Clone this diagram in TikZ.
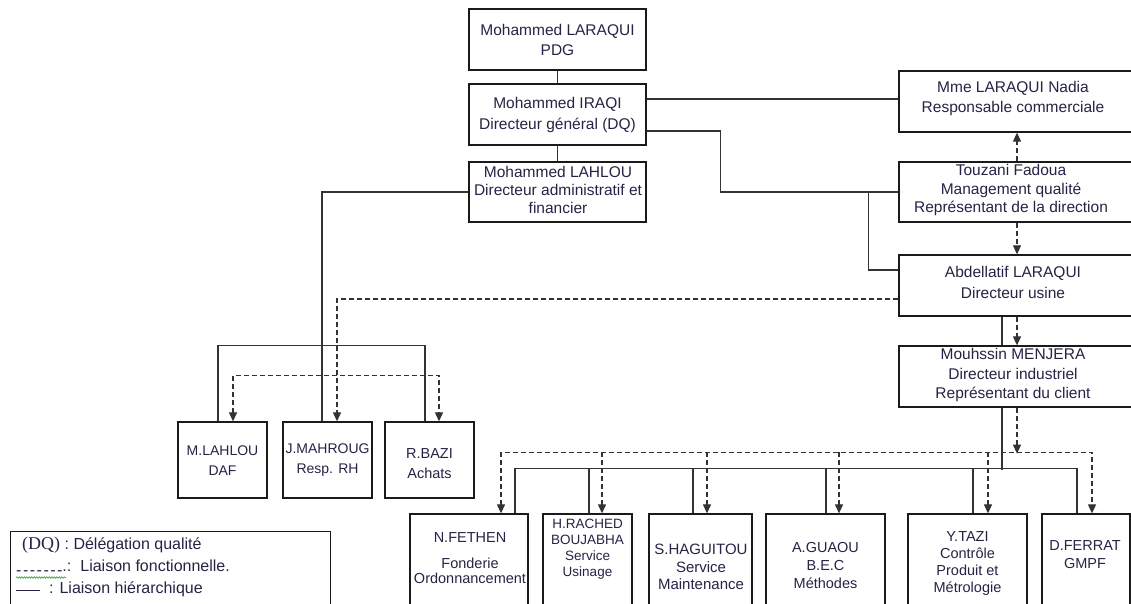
\documentclass[tikz,border=0pt]{standalone}
\usepackage{fontspec}
\setmainfont{Liberation Sans}
\newfontfamily\serifleg{Liberation Serif}
\usetikzlibrary{arrows.meta,decorations.pathmorphing}
\definecolor{boxc}{HTML}{1A1A1A}
\definecolor{linec}{HTML}{333333}
\definecolor{txtc}{HTML}{2A2245}
\definecolor{squig}{HTML}{3AA03A}
\begin{document}
\begin{tikzpicture}[x=1pt,y=-1pt,
  box/.style={draw=boxc, line width=1.3pt, rectangle, inner sep=0pt, fill=white},
  txt/.style={inner sep=0pt, align=center, text=txtc},
  big/.style={txt, font=\fontsize{15.5}{#1}\selectfont},
  small/.style={txt, font=\fontsize{14}{#1}\selectfont},
  conn/.style={draw=linec, line width=1.2pt},
  fl/.style={draw=linec, line width=1.2pt, dash pattern=on 5pt off 3pt},
  tip/.style={-{Triangle[length=9pt,width=8pt]}},
  tips/.style={{Triangle[length=9pt,width=8pt]}-{Triangle[length=9pt,width=8pt]}}
]
\clip (0,0) rectangle (1131,604);
\fill[white] (0,0) rectangle (1131,604);

% boxes
\node[box, minimum width=177, minimum height=61] (pdg) at (557.5,39.5) {};
\node[box, minimum width=177, minimum height=61] (iraqi) at (557.5,114.5) {};
\node[box, minimum width=177, minimum height=60] (lahlou) at (557.5,192) {};
\node[box, minimum width=235, minimum height=61] (nadia) at (1016.5,101.5) {};
\node[box, minimum width=235, minimum height=60] (touzani) at (1016.5,192) {};
\node[box, minimum width=235, minimum height=61] (abdel) at (1016.5,285.5) {};
\node[box, minimum width=235, minimum height=61] (menjera) at (1016.5,376.5) {};
\node[box, minimum width=89, minimum height=76] (mlahlou) at (222.5,460) {};
\node[box, minimum width=89, minimum height=76] (mahroug) at (327.5,460) {};
\node[box, minimum width=89, minimum height=76] (bazi) at (429.5,460) {};
\node[box, minimum width=118, minimum height=126] (fethen) at (469,577) {};
\node[box, minimum width=89, minimum height=126] (rached) at (587.5,577) {};
\node[box, minimum width=103, minimum height=126] (haguitou) at (700.5,577) {};
\node[box, minimum width=119, minimum height=126] (guaou) at (825.5,577) {};
\node[box, minimum width=119, minimum height=126] (tazi) at (967.5,577) {};
\node[box, minimum width=88, minimum height=126] (ferrat) at (1086,577) {};
\node[box, line width=1pt, minimum width=320, minimum height=109] (legend) at (170,585.5) {};

% texts
\node[big=20] (pdg-t) at (557.5,40) {Mohammed LARAQUI\\PDG};
\node[big=21] (iraqi-t) at (557.5,115) {Mohammed IRAQI\\Directeur général (DQ)};
\node[big=18] (lahlou-t) at (558,189.5) {Mohammed LAHLOU\\Directeur administratif et\\financier};
\node[big=20] (nadia-t) at (1013,98.5) {Mme LARAQUI Nadia\\Responsable commerciale};
\node[big=18.5] (touzani-t) at (1011,190) {Touzani Fadoua\\Management qualité\\Représentant de la direction};
\node[big=21] (abdel-t) at (1013,282) {Abdellatif LARAQUI\\Directeur usine};
\node[big=19.5] (menjera-t) at (1013,375) {Mouhssin MENJERA\\Directeur industriel\\Représentant du client};
\node[small=20] (mlahlou-t) at (222.5,460.5) {M.LAHLOU\\DAF};
\node[small=20] (mahroug-t) at (327.5,460.5) {J.MAHROUG\\Resp. RH};
\node[txt, font=\fontsize{14.5}{20}\selectfont] (bazi-t) at (429.5,464) {R.BAZI\\Achats};
\node[txt, font=\fontsize{14.5}{15.5}\selectfont] (fethen-t) at (470,558) {N.FETHEN\\[10.5pt]Fonderie\\Ordonnancement};
\node[txt, font=\fontsize{13.5}{16}\selectfont] (rached-t) at (587.5,549.5) {H.RACHED\\BOUJABHA\\Service\\Usinage};
\node[txt, font=\fontsize{15}{17.5}\selectfont] (haguitou-t) at (701,567) {S.HAGUITOU\\Service\\Maintenance};
\node[txt, font=\fontsize{14.5}{18}\selectfont] (guaou-t) at (825.5,565.5) {A.GUAOU\\B.E.C\\Méthodes};
\node[txt, font=\fontsize{14.5}{17.3}\selectfont] (tazi-t) at (967.5,563.5) {Y.TAZI\\Contrôle\\Produit et\\Métrologie};
\node[txt, font=\fontsize{14.5}{18}\selectfont] (ferrat-t) at (1085,554.5) {D.FERRAT\\GMPF};

% legend
\node[txt, anchor=west, font=\fontsize{16}{18}\selectfont] (leg1) at (22,545.5) {{\serifleg\fontsize{18}{18}\selectfont (DQ)} : Délégation qualité};
\node[txt, anchor=west, font=\fontsize{16}{18}\selectfont] (leg2) at (16,567.5) {\raisebox{-0.45ex}{-\kern1.5pt-\kern1.5pt-\kern1.5pt-\kern1.5pt-\kern1.5pt-\kern1.5pt-}.:\hspace{9pt}Liaison fonctionnelle.};
\node[txt, anchor=west, font=\fontsize{16}{18}\selectfont] (leg3) at (16,589.5) {\rule[0.3ex]{24pt}{0.9pt}\hspace{9pt}: Liaison hiérarchique};
\draw[squig, line width=0.6pt, decorate, decoration={snake, amplitude=0.8pt, segment length=2.5pt}] (16,577.5) -- (66,577.5);

% hierarchical (solid) connectors
\draw[conn] (pdg.south) -- (iraqi.north);
\draw[conn] (iraqi.south) -- (lahlou.north);
\draw[conn] ([yshift=15.5pt]iraqi.east) -- ([yshift=15.5pt]iraqi.east -| nadia.west);
\draw[conn] ([yshift=-16.5pt]iraqi.east) -- ++(74,0) |- (touzani.west);
\draw[conn] ([xshift=-30pt]touzani.west) |- ([yshift=15.5pt]abdel.west);
\draw[conn] ([xshift=-14.5pt]abdel.south) -- ([xshift=-14.5pt]menjera.north);
\draw[conn] (lahlou.west) -| ([xshift=-5.5pt]mahroug.north);
\draw[conn] ([xshift=-4.5pt]mlahlou.north) -- ++(0,-76) -| ([xshift=-4.5pt]bazi.north);
\draw[conn] ([xshift=-14.5pt]menjera.south) -- ++(0,62);
\draw[conn] ([xshift=46pt]fethen.north) -- ++(0,-45) -| ([xshift=-9pt]ferrat.north);
\draw[conn] ([xshift=1.5pt]rached.north) -- ++(0,-45);
\draw[conn] ([xshift=-7.5pt]haguitou.north) -- ++(0,-45);
\draw[conn] ([xshift=0.5pt]guaou.north) -- ++(0,-45);
\draw[conn] ([xshift=5.5pt]tazi.north) -- ++(0,-45);

% functional (dashed) connectors
\draw[fl,tip] ([xshift=0.5pt]touzani.north) -- ([xshift=0.5pt]nadia.south);
\draw[fl,tip] ([xshift=0.5pt]touzani.south) -- ([xshift=0.5pt]abdel.north);
\draw[fl,tip] ([xshift=0.5pt]abdel.south) -- ([xshift=0.5pt]menjera.north);
\draw[fl,tip] ([yshift=-13.5pt]abdel.west) -| ([xshift=9.5pt]mahroug.north);
\draw[fl,tips] ([xshift=10.5pt]mlahlou.north) -- ++(0,-46) -| ([xshift=9.5pt]bazi.north);
\draw[fl,tip] ([xshift=0.5pt]menjera.south) -- ++(0,46);
\draw[fl,tips] ([xshift=32pt]fethen.north) -- ++(0,-61) -| ([xshift=6pt]ferrat.north);
\draw[fl,tip] ([xshift=14.5pt,yshift=61pt]rached.north) -- ([xshift=14.5pt]rached.north);
\draw[fl,tip] ([xshift=6.5pt,yshift=61pt]haguitou.north) -- ([xshift=6.5pt]haguitou.north);
\draw[fl,tip] ([xshift=13.5pt,yshift=61pt]guaou.north) -- ([xshift=13.5pt]guaou.north);
\draw[fl,tip] ([xshift=20.5pt,yshift=61pt]tazi.north) -- ([xshift=20.5pt]tazi.north);
\end{tikzpicture}
\end{document}
